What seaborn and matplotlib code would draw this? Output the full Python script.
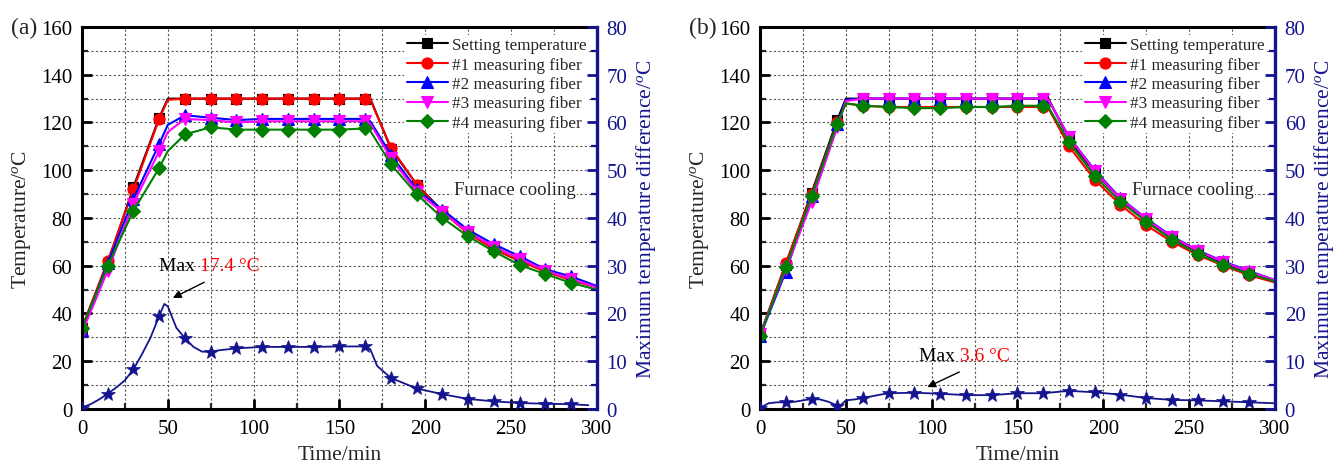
import numpy as np
import pandas as pd
import matplotlib
matplotlib.use("Agg")
import matplotlib.pyplot as plt
import seaborn as sns
from matplotlib.ticker import MultipleLocator

# ---------------- data ----------------
time = [0, 15, 30, 45, 50, 60, 75, 90, 105, 120, 135, 150, 165, 168,
        180, 195, 210, 225, 240, 255, 270, 285, 300]
marker_times = [0, 15, 30, 45, 60, 75, 90, 105, 120, 135, 150, 165,
                180, 195, 210, 225, 240, 255, 270, 285]

series_names = ["Setting temperature", "#1 measuring fiber", "#2 measuring fiber",
                "#3 measuring fiber", "#4 measuring fiber"]

set_a = [34, 61, 93, 122, 130, 130, 130, 130, 130, 130, 130, 130, 130, 130,
         109, 94, 83, 74, 67, 62, 58, 54, 51]
fib1_a = [34, 62, 92, 121.5, 129.5, 130, 130, 130, 130, 130, 130, 130, 130, 129.5,
          109.5, 94, 82.5, 73.5, 67, 62, 57.5, 54, 51]
fib2_a = [33, 61, 88, 111, 119, 123, 122, 121, 121.5, 121.5, 121.5, 121.5, 121.5, 120.5,
          106.5, 92, 83.5, 75, 69, 64, 58.5, 55.5, 51.5]
fib3_a = [32, 58, 86, 108, 116, 121.5, 121, 120, 120.5, 120.5, 120.5, 120.5, 120.5, 119.5,
          105, 91, 82.5, 74, 68, 63, 58, 54.5, 51]
fib4_a = [34, 60, 83, 101, 108, 115, 118, 117, 117, 117, 117, 117, 117.5, 116.5,
          102.5, 90, 80, 72.3, 66, 60.3, 56.5, 52.8, 50]

set_b = [31, 60.5, 90.5, 121, 130, 130, 130, 130, 130, 130, 130, 130, 130, 130,
         113, 99, 88, 79, 71.5, 66, 61, 57, 53.5]
fib1_b = [31, 61, 90, 120, 128, 127, 126.5, 126.5, 126.5, 126.5, 126.5, 126.5, 126.5, 126,
          110, 96, 85.5, 77, 70, 64.5, 60, 56, 53]
fib2_b = [30.5, 57.5, 89, 119.5, 129.5, 130, 130, 130, 130, 130, 130, 130, 130, 129.5,
          114, 100, 88.3, 79.8, 72.3, 66.5, 61.8, 57.8, 54]
fib3_b = [31.5, 58.5, 86.5, 118, 129, 130, 130, 130, 130, 130, 130, 130, 130, 129.5,
          114, 99.5, 88, 79.5, 72, 66.3, 61.5, 57.5, 54]
fib4_b = [30.5, 59.5, 89, 119.5, 128, 127, 126.5, 126, 126, 126.5, 126.5, 127, 127, 126.5,
          111.7, 97.5, 86.8, 78.5, 70.9, 64.9, 60.3, 56.5, 53.5]

diff_time_a = [0, 5, 10, 15, 20, 25, 30, 35, 40, 45, 48, 50, 55, 60, 65, 70, 75, 80, 90,
               105, 120, 135, 150, 165, 168, 172, 180, 195, 210, 225, 240, 255, 270, 285, 295]
diff_a = [0.3, 1, 2, 3.2, 4.5, 6, 8.3, 11.5, 15, 19.5, 22, 21.5, 17, 14.8, 13, 12, 12, 12.3,
          12.7, 13, 13, 13, 13.1, 13.1, 12.5, 9, 6.5, 4.3, 3.1, 2.1, 1.6, 1.25, 1.1, 1.0, 0.8]

diff_time_b = [0, 5, 10, 15, 20, 25, 30, 35, 40, 45, 47, 50, 55, 60, 70, 75, 90, 105, 120,
               135, 150, 165, 180, 195, 210, 225, 240, 255, 270, 285, 300]
diff_b = [0.2, 1.2, 1.4, 1.4, 1.5, 1.8, 2.1, 2.0, 1.5, 0.7, 0.8, 1.8, 2.0, 2.3, 3.0, 3.3,
          3.4, 3.2, 2.9, 2.9, 3.3, 3.3, 3.8, 3.5, 3.0, 2.3, 1.9, 1.8, 1.6, 1.4, 1.2]

max_labels = ["17.4 °C", "3.6 °C"]

# ---------------- style ----------------
sns.set_theme(style="ticks")
plt.rcParams["font.family"] = ["Liberation Serif", "DejaVu Serif"]
plt.rcParams["mathtext.fontset"] = "custom"
plt.rcParams["mathtext.rm"] = "Liberation Serif"
plt.rcParams["mathtext.it"] = "Liberation Serif:italic"

NAVY = "#14148f"
colors = ["black", "#ff0000", "#0000ff", "#ff00ff", "#008000"]
markers = ["s", "o", "^", "v", "D"]
msizes = [7, 8, 8, 8, 7]

fig = plt.figure(figsize=(13.35, 4.64), dpi=100)


def panel(rect, label, temps, dtime, dvals, maxlabel, max_xy, arrow_tail, arrow_head):
    ax = fig.add_axes(rect)
    mk_idx = [i for i, t in enumerate(time) if t in marker_times]
    for name, vals, c, m, ms in zip(series_names, temps, colors, markers, msizes):
        sns.lineplot(x=np.array(time), y=np.array(vals), ax=ax, color=c, marker=m,
                     markersize=ms, markeredgecolor=c, markeredgewidth=0.8,
                     markevery=mk_idx, linewidth=1.5, label=name,
                     errorbar=None, estimator=None, sort=False)
    ax.set_xlim(0, 300)
    ax.set_ylim(0, 160)
    ax.xaxis.set_major_locator(MultipleLocator(50))
    ax.xaxis.set_minor_locator(MultipleLocator(25))
    ax.yaxis.set_major_locator(MultipleLocator(20))
    ax.yaxis.set_minor_locator(MultipleLocator(10))
    ax.grid(which="both", linestyle=(0, (2, 2)), color="#555555", linewidth=0.8)
    ax.tick_params(which="major", direction="in", length=7, width=2, labelsize=15,
                   colors="black", pad=7)
    ax.tick_params(which="minor", direction="in", length=4, width=1.6)
    ax.tick_params(axis="x", which="both", top=False)
    ax.tick_params(axis="y", which="both", right=False)
    for s in ["left", "bottom", "top"]:
        ax.spines[s].set_linewidth(2.2)
        ax.spines[s].set_color("black")
    ax.spines["right"].set_visible(False)
    ax.set_xlabel("Time/min", fontsize=15.5, labelpad=5)
    ax.set_ylabel("Temperature/$^o$C", fontsize=15.5, labelpad=6)

    leg = ax.legend(loc="upper right", frameon=True, fancybox=False, framealpha=1,
                    edgecolor="none", facecolor="white", fontsize=12.3,
                    labelspacing=0.2, handlelength=2.4, handletextpad=0.25,
                    borderpad=0.15, borderaxespad=0.45, numpoints=1)
    leg.set_zorder(5)

    ax.text(252, 92, "Furnace cooling", fontsize=13.5, ha="center", va="center",
            bbox=dict(facecolor="white", edgecolor="none", pad=1.5), zorder=4)

    ax2 = ax.twinx()
    star_idx = [i for i, t in enumerate(dtime) if t in marker_times]
    sns.lineplot(x=np.array(dtime), y=np.array(dvals), ax=ax2, color=NAVY, marker="*",
                 markersize=10, markeredgecolor=NAVY, markeredgewidth=0.5,
                 markevery=star_idx, linewidth=1.3, errorbar=None, estimator=None,
                 sort=False)
    ax2.set_ylim(0, 80)
    ax2.yaxis.set_major_locator(MultipleLocator(10))
    ax2.yaxis.set_minor_locator(MultipleLocator(5))
    ax2.tick_params(which="major", direction="in", length=7, width=2, labelsize=15,
                    colors=NAVY, pad=7)
    ax2.tick_params(which="minor", direction="in", length=4, width=1.6, colors=NAVY)
    for s in ["left", "bottom", "top"]:
        ax2.spines[s].set_visible(False)
    ax2.spines["right"].set_linewidth(2.4)
    ax2.spines["right"].set_color(NAVY)
    ax2.set_ylabel("Maximum temperature difference/$^o$C", fontsize=15.5, color=NAVY,
                   labelpad=5)

    t1 = ax.text(max_xy[0], max_xy[1], "Max ", fontsize=14, color="black",
                 ha="left", va="center")
    ax.annotate(maxlabel, xy=(1, 0.5), xycoords=t1, xytext=(0, 0),
                textcoords="offset points", fontsize=14, color="#ff0000",
                ha="left", va="center")
    ax.annotate("", xy=arrow_head, xytext=arrow_tail, xycoords="data",
                arrowprops=dict(arrowstyle="-|>", color="black", lw=1.0,
                                mutation_scale=12))

    fig.text(rect[0] - 0.043, rect[1] + rect[3] + 0.0, label, fontsize=17,
             ha="center", va="center")
    return ax


panel([0.0614, 0.1164, 0.3857, 0.8233], "(a)",
      [set_a, fib1_a, fib2_a, fib3_a, fib4_a], diff_time_a, diff_a, max_labels[0],
      (45, 60), (72.7, 53.6), (51.5, 46))
panel([0.5693, 0.1164, 0.3857, 0.8233], "(b)",
      [set_b, fib1_b, fib2_b, fib3_b, fib4_b], diff_time_b, diff_b, max_labels[1],
      (92.6, 22.3), (117.6, 16), (96, 8.7))

fig.savefig("out.png", dpi=100, facecolor="white")
